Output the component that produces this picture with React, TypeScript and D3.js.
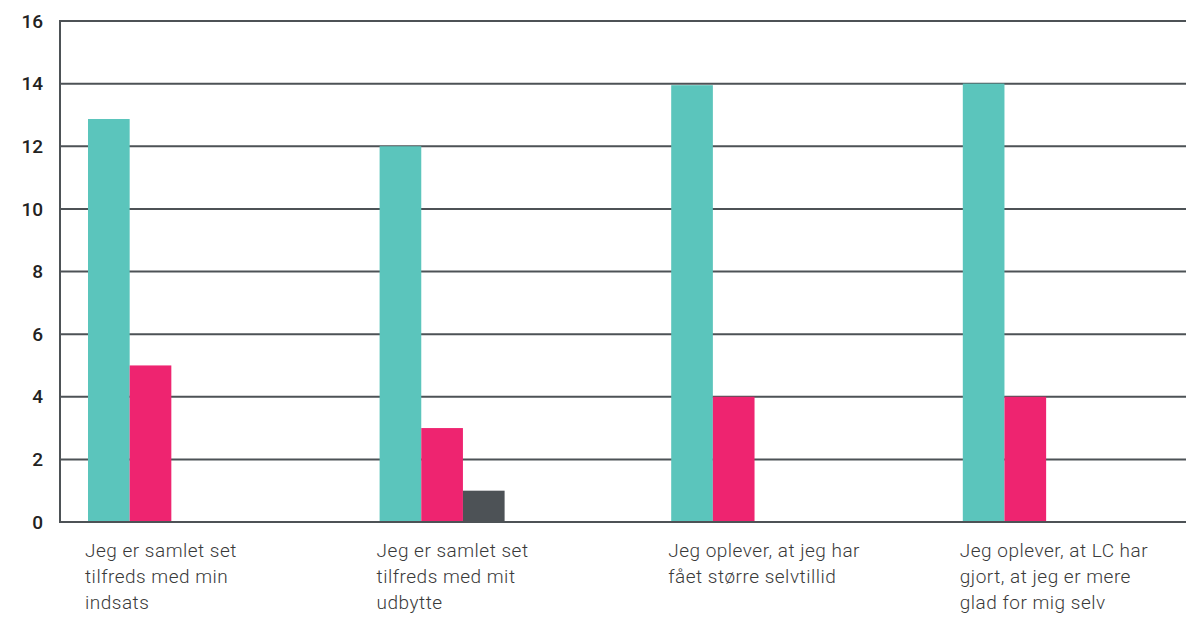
import React from "react";
import * as d3 from "d3";

const categories = [
  ["Jeg er samlet set", "tilfreds med min", "indsats"],
  ["Jeg er samlet set", "tilfreds med mit", "udbytte"],
  ["Jeg oplever, at jeg har", "fået større selvtillid"],
  ["Jeg oplever, at LC har", "gjort, at jeg er mere", "glad for mig selv"],
];
const categoryKeys = ["c1", "c2", "c3", "c4"];
const seriesNames = ["Enig", "Uenig", "Ved ikke"];
const seriesColors = ["#5bc5bc", "#ee2470", "#4d5256"];
const valuesEnig = [12.87, 12, 13.95, 14];
const valuesUenig = [5, 3, 4, 4];
const valuesVedIkke = [0, 1, 0, 0];
const yTicks = [0, 2, 4, 6, 8, 10, 12, 14, 16];

const seriesValues = [valuesEnig, valuesUenig, valuesVedIkke];

export default function App() {
  const W = 1186;
  const H = 617;
  const axisX = 60;
  const y = d3.scaleLinear().domain([0, 16]).range([522, 21]);
  const x0 = d3.scaleBand<string>().domain(categoryKeys).range([88, 88 + 4 * 291.6]).padding(0);
  const x1 = d3.scaleBand<string>().domain(seriesNames).range([0, 125]).padding(0);
  const gridColor = "#4d5256";

  return (
    <svg width={W} height={H} style={{ position: "absolute", left: 0, top: 0, background: "#fff" }}>
      {yTicks.map((t) => (
        <g key={t}>
          <line x1={axisX} x2={W} y1={y(t)} y2={y(t)} stroke={gridColor} strokeWidth={2} />
          <text
            x={43}
            y={y(t)}
            dy="0.35em"
            textAnchor="end"
            fontFamily="Roboto, 'DejaVu Sans', sans-serif"
            fontSize={19}
            fontWeight={500}
            fill="#222"
          >
            {t}
          </text>
        </g>
      ))}
      <line x1={axisX} x2={axisX} y1={y(16) - 1} y2={y(0) + 1} stroke={gridColor} strokeWidth={2} />
      {categoryKeys.map((c, ci) => (
        <g key={c} transform={`translate(${x0(c)},0)`}>
          {seriesNames.map((s, si) => {
            const v = seriesValues[si][ci];
            if (!v) return null;
            return (
              <rect
                key={s}
                x={x1(s)}
                y={y(v)}
                width={x1.bandwidth()}
                height={y(0) - y(v) - 1}
                fill={seriesColors[si]}
              />
            );
          })}
          <text
            x={-3}
            y={557}
            fontFamily="Roboto, 'DejaVu Sans', sans-serif"
            fontSize={19}
            fontWeight={300}
            letterSpacing={0.5}
            fill="#3a3a3a"
          >
            {categories[ci].map((line, li) => (
              <tspan key={li} x={-3} dy={li === 0 ? 0 : 26}>
                {line}
              </tspan>
            ))}
          </text>
        </g>
      ))}
    </svg>
  );
}
